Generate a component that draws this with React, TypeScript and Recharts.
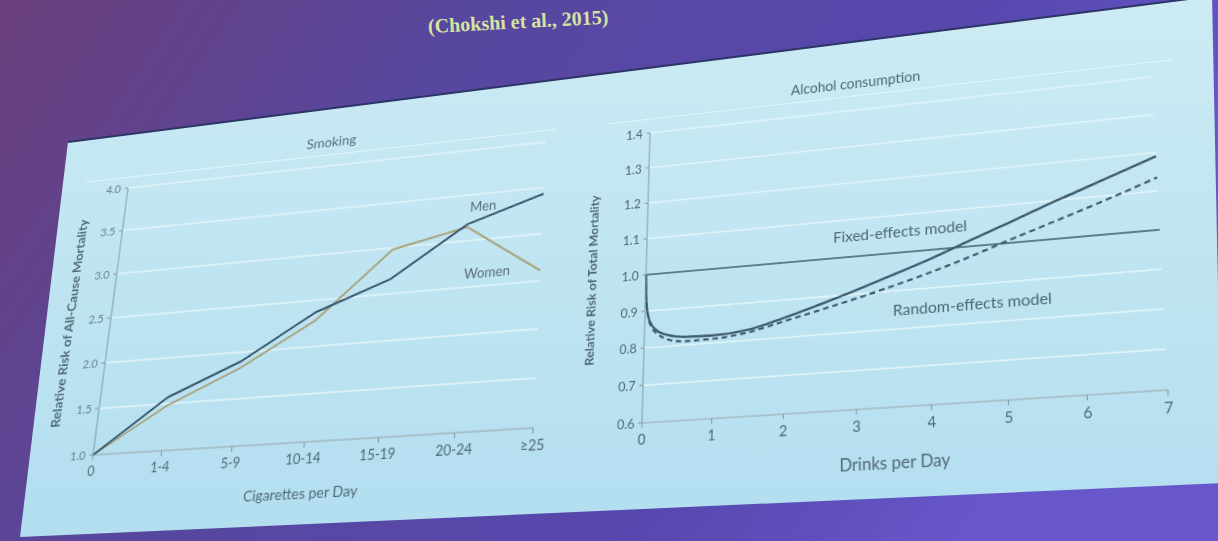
import React from 'react';
import { LineChart, Line, XAxis, YAxis, CartesianGrid, ReferenceLine, ReferenceDot, Label } from 'recharts';

// Smoking panel
const cigCategories = ['0', '1-4', '5-9', '10-14', '15-19', '20-24', '≥25'];
const menRisk = [1.0, 1.57, 1.9, 2.37, 2.66, 3.18, 3.43];
const womenRisk = [1.0, 1.48, 1.83, 2.28, 2.98, 3.15, 2.61];
const smokingTicks = [1.0, 1.5, 2.0, 2.5, 3.0, 3.5, 4.0];

// Alcohol panel
const drinks = [0, 0.02, 0.05, 0.1, 0.2, 0.35, 0.6, 1, 1.5, 2, 2.5, 3, 3.5, 4, 4.5, 5, 5.5, 6, 6.5, 7];
const fixedRisk = [1.0, 0.92, 0.885, 0.862, 0.842, 0.83, 0.822, 0.82, 0.828, 0.852, 0.88, 0.91, 0.942, 0.975, 1.012, 1.048, 1.085, 1.12, 1.155, 1.19];
const randomRisk = [1.0, 0.92, 0.882, 0.856, 0.834, 0.818, 0.81, 0.811, 0.821, 0.843, 0.865, 0.888, 0.913, 0.94, 0.97, 1.003, 1.035, 1.067, 1.1, 1.135];
const drinkTicks = [0, 1, 2, 3, 4, 5, 6, 7];
const alcoholTicks = [0.6, 0.7, 0.8, 0.9, 1.0, 1.1, 1.2, 1.3, 1.4];

const smokingData = cigCategories.map((c, i) => ({ idx: i, men: menRisk[i], women: womenRisk[i] }));
const alcoholData = drinks.map((d, i) => ({ drinks: d, fixed: fixedRisk[i], random: randomRisk[i] }));

// the slide was photographed at an angle: map each flat chart onto the tilted slide
type Pt = [number, number];
function warp(src: Pt[], dst: Pt[]): string {
    const A: number[][] = [];
    for (let i = 0; i < 4; i++) {
        const [x, y] = src[i];
        const [X, Y] = dst[i];
        A.push([x, y, 1, 0, 0, 0, -x * X, -y * X, X]);
        A.push([0, 0, 0, x, y, 1, -x * Y, -y * Y, Y]);
    }
    for (let c = 0; c < 8; c++) {
        let p = c;
        for (let r = c + 1; r < 8; r++) if (Math.abs(A[r][c]) > Math.abs(A[p][c])) p = r;
        [A[c], A[p]] = [A[p], A[c]];
        for (let r = 0; r < 8; r++) {
            if (r === c) continue;
            const f = A[r][c] / A[c][c];
            for (let k = c; k < 9; k++) A[r][k] -= f * A[c][k];
        }
    }
    const h = A.map((row, i) => row[8] / row[i]);
    return `matrix3d(${h[0]},${h[3]},0,${h[6]},${h[1]},${h[4]},0,${h[7]},0,0,1,0,${h[2]},${h[5]},0,1)`;
}

const smokingWarp = warp(
    [[70, 70], [510, 70], [70, 340], [510, 340]],
    [[128, 188], [546, 142], [93, 455], [533, 428]]
);
const alcoholWarp = warp(
    [[70, 60], [600, 60], [70, 370], [600, 370]],
    [[650, 133], [1152, 77], [642, 423], [1168, 390]]
);

const axisColor = '#7896a2';
const textColor = '#4f6977';
const gridColor = '#e3f5fa';

export default function App() {
    return (
        <div style={{ position: 'fixed', left: 0, top: 0, width: 1218, height: 541, overflow: 'hidden', fontFamily: 'Lato, sans-serif' }}>
            {/* slide background */}
            <svg width={1218} height={541} style={{ position: 'absolute', left: 0, top: 0 }}>
                <defs>
                    <linearGradient id="bg" x1="0" y1="0" x2="1" y2="0.3">
                        <stop offset="0%" stopColor="#6a3f7b" />
                        <stop offset="35%" stopColor="#58479e" />
                        <stop offset="75%" stopColor="#5747ae" />
                        <stop offset="100%" stopColor="#6757ca" />
                    </linearGradient>
                    <linearGradient id="panel" x1="0" y1="0" x2="0" y2="1">
                        <stop offset="0%" stopColor="#cdebf3" />
                        <stop offset="100%" stopColor="#b2def0" />
                    </linearGradient>
                </defs>
                <rect width={1218} height={541} fill="url(#bg)" />
                <polygon points="68,142 1212,-4 1222,483 20,537" fill="url(#panel)" />
                <line x1={68} y1={142} x2={1212} y2={-4} stroke="#2c3566" strokeWidth={2} />
            </svg>

            <div style={{ position: 'absolute', left: 428, top: 15, transform: 'rotate(-3deg)', transformOrigin: '0 50%', fontFamily: '"Liberation Serif", serif', fontWeight: 'bold', fontSize: 20, lineHeight: 1.1, color: '#d6e3a0', whiteSpace: 'nowrap' }}>
                (Chokshi et al., 2015)
            </div>

            {/* Smoking */}
            <div style={{ position: 'absolute', left: 0, top: 0, width: 540, height: 420, transformOrigin: '0 0', transform: smokingWarp }}>
                <div style={{ position: 'absolute', left: 20, top: 58, width: 500, height: 0, borderTop: `1.5px solid ${gridColor}` }} />
                <div style={{ position: 'absolute', left: 290, top: 44, transform: 'translate(-50%, -50%)', fontSize: 14, color: '#55707e' }}>Smoking</div>
                <LineChart width={540} height={420} data={smokingData} margin={{ top: 70, right: 30, bottom: 0, left: 0 }}>
                    <CartesianGrid vertical={false} stroke={gridColor} strokeWidth={1.5} />
                    <XAxis
                        dataKey="idx"
                        type="number"
                        domain={[0, 6]}
                        ticks={[0, 1, 2, 3, 4, 5, 6]}
                        tickFormatter={(i: number) => cigCategories[i]}
                        height={80}
                        stroke={axisColor}
                        tick={{ fill: textColor, fontSize: 13 }}
                        tickSize={5}
                        tickMargin={6}
                    >
                        <Label value="Cigarettes per Day" position="insideBottom" offset={28} style={{ fill: textColor, fontSize: 14 }} />
                    </XAxis>
                    <YAxis
                        domain={[1, 4]}
                        ticks={smokingTicks}
                        tickFormatter={(v: number) => v.toFixed(1)}
                        width={70}
                        stroke={axisColor}
                        tick={{ fill: '#65818f', fontSize: 12 }}
                        tickSize={4}
                        tickMargin={4}
                    >
                        <Label value="Relative Risk of All-Cause Mortality" angle={-90} position="insideLeft" offset={24} style={{ textAnchor: 'middle', fill: textColor, fontSize: 13.5, fontWeight: 'bold' }} />
                    </YAxis>
                    <Line type="linear" dataKey="women" stroke="#a9a37c" strokeWidth={2} dot={false} isAnimationActive={false} />
                    <Line type="linear" dataKey="men" stroke="#32536b" strokeWidth={2} dot={false} isAnimationActive={false} />
                    <ReferenceDot x={5.2} y={3.36} r={0} fill="none" stroke="none" label={{ value: 'Men', position: 'center', fill: '#5a6e7e', fontSize: 13 }} />
                    <ReferenceDot x={5.3} y={2.64} r={0} fill="none" stroke="none" label={{ value: 'Women', position: 'center', fill: '#5a6e7e', fontSize: 13 }} />
                </LineChart>
            </div>

            {/* Alcohol */}
            <div style={{ position: 'absolute', left: 0, top: 0, width: 630, height: 440, transformOrigin: '0 0', transform: alcoholWarp }}>
                <div style={{ position: 'absolute', left: 20, top: 44, width: 600, height: 0, borderTop: `1.5px solid ${gridColor}` }} />
                <div style={{ position: 'absolute', left: 297, top: 30, transform: 'translate(-50%, -50%)', fontSize: 15, color: '#4f6776' }}>Alcohol consumption</div>
                <LineChart width={630} height={440} data={alcoholData} margin={{ top: 60, right: 30, bottom: 0, left: 0 }}>
                    <CartesianGrid vertical={false} stroke={gridColor} strokeWidth={1.5} />
                    <XAxis
                        dataKey="drinks"
                        type="number"
                        domain={[0, 7]}
                        ticks={drinkTicks}
                        height={70}
                        stroke={axisColor}
                        tick={{ fill: textColor, fontSize: 15 }}
                        tickSize={5}
                        tickMargin={6}
                    >
                        <Label value="Drinks per Day" position="insideBottom" offset={10} style={{ fill: '#4f6776', fontSize: 17 }} />
                    </XAxis>
                    <YAxis
                        domain={[0.6, 1.4]}
                        ticks={alcoholTicks}
                        tickFormatter={(v: number) => v.toFixed(1)}
                        width={70}
                        stroke={axisColor}
                        tick={{ fill: textColor, fontSize: 14 }}
                        tickSize={4}
                        tickMargin={4}
                    >
                        <Label value="Relative Risk of Total Mortality" angle={-90} position="insideLeft" offset={9} style={{ textAnchor: 'middle', fill: '#4f6776', fontSize: 13.5, fontWeight: 'bold' }} />
                    </YAxis>
                    <ReferenceLine y={1} stroke="#5e7e8c" strokeWidth={1.8} />
                    <Line type="monotone" dataKey="random" stroke="#3e5a6c" strokeWidth={2.2} strokeDasharray="6 4" dot={false} isAnimationActive={false} />
                    <Line type="monotone" dataKey="fixed" stroke="#3e5a6c" strokeWidth={2.4} dot={false} isAnimationActive={false} />
                    <ReferenceDot x={3.6} y={1.055} r={0} fill="none" stroke="none" label={{ value: 'Fixed-effects model', position: 'center', fill: '#4d6675', fontSize: 16 }} />
                    <ReferenceDot x={4.55} y={0.85} r={0} fill="none" stroke="none" label={{ value: 'Random-effects model', position: 'center', fill: '#4d6675', fontSize: 16 }} />
                </LineChart>
            </div>
        </div>
    );
}
